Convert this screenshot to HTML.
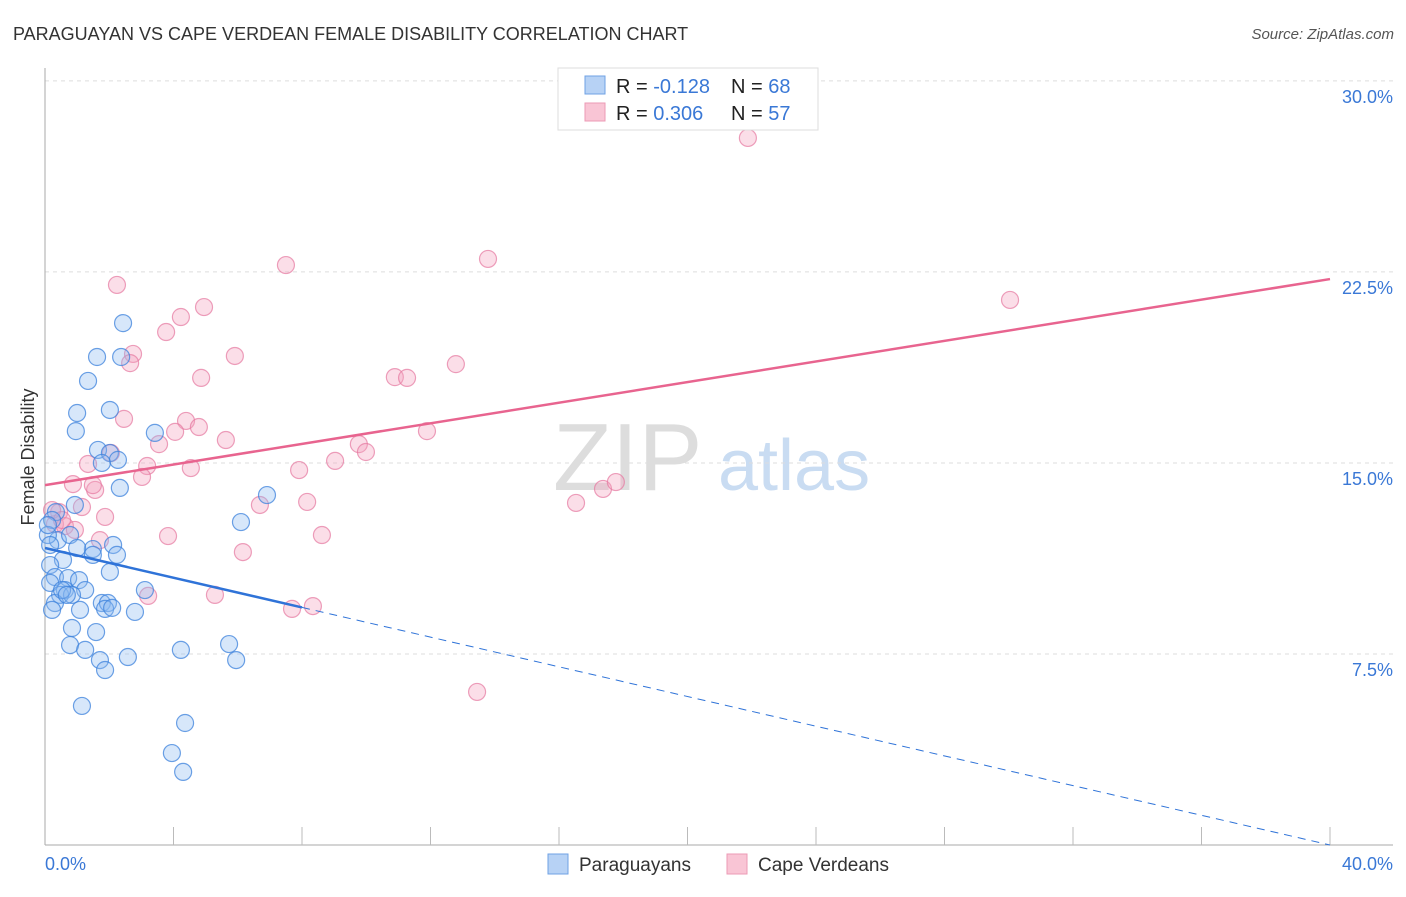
<!DOCTYPE html>
<html><head><meta charset="utf-8"><style>
body{margin:0;background:#fff;font-family:"Liberation Sans",sans-serif;}
svg text{font-family:"Liberation Sans",sans-serif;}
</style></head><body>
<svg id="chart" width="1406" height="892" viewBox="0 0 1406 892" xmlns="http://www.w3.org/2000/svg">
<text x="13" y="40" font-size="18" fill="#333">PARAGUAYAN VS CAPE VERDEAN FEMALE DISABILITY CORRELATION CHART</text>
<text x="1394" y="39" font-size="15" fill="#555" text-anchor="end" font-style="italic">Source: ZipAtlas.com</text>
<g>
<text x="553" y="490" font-size="96" fill="#ddd" font-family="Liberation Serif, serif">ZIP</text>
<text x="718" y="490" font-size="72" fill="#c9dcf2">atlas</text>
</g>
<g id="grid"></g>
<g id="axes"></g>
<g id="marks"></g>
<text transform="translate(34,457) rotate(-90)" font-size="18" fill="#333" text-anchor="middle">Female Disability</text>
<g>
<rect x="558" y="68" width="260" height="62" fill="#fff" stroke="#ddd"/>
<rect x="585" y="76" width="20" height="18" fill="#b7d2f5" stroke="#6fa2e4"/>
<rect x="585" y="103" width="20" height="18" fill="#f9c5d5" stroke="#ec9ab5"/>
<text x="616" y="93" font-size="20" fill="#222">R = <tspan fill="#3a78d6">-0.128</tspan></text>
<text x="731" y="93" font-size="20" fill="#222">N = <tspan fill="#3a78d6">68</tspan></text>
<text x="616" y="120" font-size="20" fill="#222">R = <tspan fill="#3a78d6"> 0.306</tspan></text>
<text x="731" y="120" font-size="20" fill="#222">N = <tspan fill="#3a78d6">57</tspan></text>
</g>
<g>
<rect x="548" y="854" width="20" height="20" fill="#b7d2f5" stroke="#6fa2e4"/>
<text x="579" y="871" font-size="19" fill="#333">Paraguayans</text>
<rect x="727" y="854" width="20" height="20" fill="#f9c5d5" stroke="#ec9ab5"/>
<text x="758" y="871" font-size="19" fill="#333">Cape Verdeans</text>
</g>
</svg>
<script>
const yTicks=[7.5,15.0,22.5,30.0];
const xTickCount=10;
const xMin=0,xMax=40,yMin=0;
const blueX=[2.43,1.62,2.37,1.34,1.00,2.02,0.96,3.42,1.65,2.02,2.27,1.77,2.33,6.91,0.93,0.34,6.10,0.22,0.40,0.78,2.12,1.49,1.00,1.49,2.24,0.56,0.16,2.02,0.31,0.72,1.06,0.16,0.62,1.25,3.11,0.47,0.84,1.77,1.96,0.31,1.87,1.09,2.80,0.84,1.59,0.78,5.73,1.25,4.23,1.71,2.58,5.95,1.87,1.15,4.36,3.95,4.30,0.09,0.16,0.53,0.68,2.09,0.22,0.09];
const blueY=[20.49,19.16,19.16,18.22,16.96,17.08,16.25,16.18,15.51,15.39,15.12,15.00,14.02,13.74,13.35,13.07,12.68,12.76,11.97,12.17,11.78,11.62,11.66,11.39,11.39,11.19,10.99,10.72,10.52,10.48,10.40,10.29,10.01,10.01,10.01,9.82,9.82,9.50,9.50,9.50,9.27,9.23,9.15,8.52,8.36,7.85,7.89,7.66,7.66,7.26,7.38,7.26,6.87,5.46,4.79,3.61,2.87,12.17,11.78,10.01,9.82,9.31,9.23,12.56];
const pinkX=[21.88,13.79,7.50,2.24,30.04,4.95,4.23,3.77,2.74,2.65,5.91,4.86,10.89,11.27,12.79,2.46,4.39,4.79,4.05,3.55,5.63,9.77,9.99,11.89,9.03,2.05,1.34,3.18,4.54,7.91,3.02,1.56,0.87,1.49,1.15,8.16,6.69,16.53,17.37,17.77,1.87,0.44,0.31,0.62,0.93,1.71,3.83,8.62,6.16,3.21,5.29,7.69,8.34,13.45,0.22,0.53];
const pinkY=[27.76,23.01,22.77,21.99,21.40,21.12,20.73,20.14,19.28,18.92,19.20,18.34,18.37,18.34,18.88,16.73,16.65,16.41,16.22,15.74,15.90,15.74,15.43,16.25,15.08,15.39,14.96,14.88,14.80,14.72,14.45,13.94,14.17,14.13,13.27,13.47,13.35,13.43,13.98,14.25,12.88,13.07,12.60,12.52,12.37,11.97,12.13,12.17,11.50,9.78,9.82,9.27,9.38,6.01,13.15,12.76];
const pinkTrend=[14.13,22.22];
const blueTrend=[11.66,0.0];
const blueSolidEnd=8;
const NS="http://www.w3.org/2000/svg";
const X0=45,X1=1330,Y0=845,PXPER=25.47;
function sx(v){return X0+(v-xMin)/(xMax-xMin)*(X1-X0);}
function sy(v){return Y0-(v-yMin)*PXPER;}
function mk(tag,attrs,parent){const e=document.createElementNS(NS,tag);for(const k in attrs)e.setAttribute(k,attrs[k]);document.getElementById(parent).appendChild(e);return e;}
yTicks.forEach(t=>{
  const l=mk('line',{x1:X0,x2:1393,y1:sy(t),y2:sy(t),stroke:'#ddd','stroke-dasharray':'4,4'},'grid');
  
  
  const tx=mk('text',{x:1393,y:sy(t)+22,'font-size':18,fill:'#3a78d6','text-anchor':'end'},'grid');
  tx.textContent=t.toFixed(1)+'%';
  
  
});
const ya=mk('line',{x1:X0,x2:X0,y1:68,y2:Y0,stroke:'#aaa'},'axes');


const xa=mk('line',{x1:X0,x2:1393,y1:Y0,y2:Y0,stroke:'#aaa'},'axes');


for(let i=1;i<=xTickCount;i++){
  const v=xMin+i*(xMax-xMin)/xTickCount;
  const t=mk('line',{x1:sx(v),x2:sx(v),y1:827,y2:Y0,stroke:'#bbb'},'axes');
  
  
}
const xl0=mk('text',{x:X0,y:870,'font-size':18,fill:'#3a78d6'},'axes');xl0.textContent=xMin.toFixed(1)+'%';


const xl1=mk('text',{x:1393,y:870,'font-size':18,fill:'#3a78d6','text-anchor':'end'},'axes');xl1.textContent=xMax.toFixed(1)+'%';


pinkX.forEach((v,i)=>{
  const c=mk('circle',{cx:sx(v),cy:sy(pinkY[i]),r:8.5,fill:'rgba(244,160,188,0.35)',stroke:'rgba(230,120,160,0.7)','stroke-width':1.2},'marks');
  
  
});
blueX.forEach((v,i)=>{
  const c=mk('circle',{cx:sx(v),cy:sy(blueY[i]),r:8.5,fill:'rgba(140,185,240,0.35)',stroke:'rgba(60,130,220,0.75)','stroke-width':1.2},'marks');
  
  
});
const pl=mk('line',{x1:sx(xMin),y1:sy(pinkTrend[0]),x2:sx(xMax),y2:sy(pinkTrend[1]),stroke:'#e8648f','stroke-width':2.5},'marks');


const bMid=blueTrend[0]+(blueTrend[1]-blueTrend[0])*(blueSolidEnd-xMin)/(xMax-xMin);
const bl=mk('line',{x1:sx(xMin),y1:sy(blueTrend[0]),x2:sx(blueSolidEnd),y2:sy(bMid),stroke:'#2f73d8','stroke-width':2.5},'marks');


const bd=mk('line',{x1:sx(blueSolidEnd),y1:sy(bMid),x2:sx(xMax),y2:sy(blueTrend[1]),stroke:'#2f73d8','stroke-width':1,'stroke-dasharray':'8,6'},'marks');


</script>
</body></html>
